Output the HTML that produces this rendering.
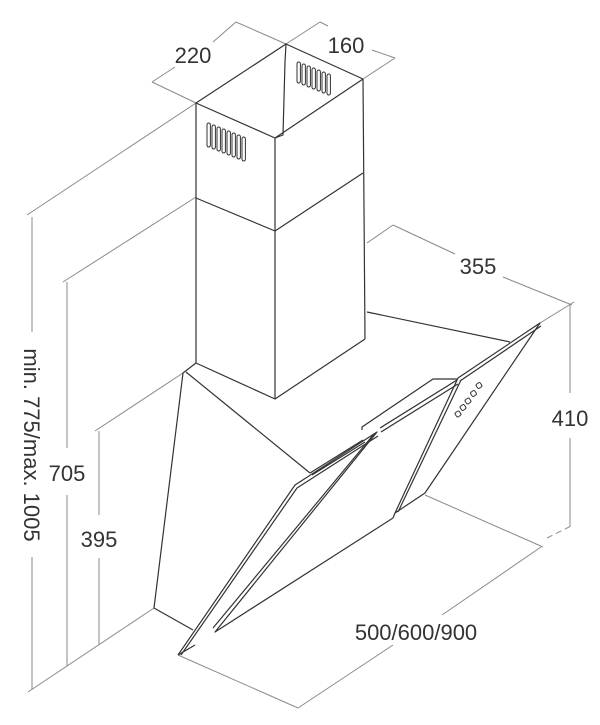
<!DOCTYPE html>
<html><head><meta charset="utf-8"><style>
html,body{margin:0;padding:0;background:#fff;}
svg{display:block;}
text{font-family:"Liberation Sans",sans-serif;font-size:22px;fill:#333;}
</style></head><body>
<svg width="600" height="725" viewBox="0 0 600 725" xmlns="http://www.w3.org/2000/svg">
<g stroke="#8a8a8a" stroke-width="1" fill="none">
  <!-- 220 -->
  <line x1="196" y1="103" x2="152" y2="82"/>
  <line x1="286" y1="44" x2="236" y2="22"/>
  <line x1="152" y1="82" x2="175" y2="67"/>
  <line x1="213" y1="42" x2="236" y2="22"/>
  <!-- 160 -->
  <line x1="286" y1="44" x2="320" y2="22"/>
  <line x1="363" y1="79" x2="395" y2="58"/>
  <line x1="320" y1="22" x2="328" y2="26"/>
  <line x1="372" y1="50" x2="395" y2="58"/>
  <!-- min775 -->
  <line x1="27" y1="215" x2="196" y2="103"/>
  <line x1="32" y1="217" x2="32" y2="332"/>
  <line x1="32" y1="557" x2="32" y2="689"/>
  <!-- 705 -->
  <line x1="63" y1="282" x2="196" y2="197"/>
  <line x1="67" y1="282" x2="67" y2="448"/>
  <line x1="67" y1="495" x2="67" y2="666"/>
  <!-- 395 -->
  <line x1="95" y1="431" x2="183" y2="373"/>
  <line x1="99" y1="431" x2="99" y2="515"/>
  <line x1="99" y1="558" x2="99" y2="645"/>
  <!-- base -->
  <line x1="28" y1="692" x2="154" y2="608"/>
  <!-- 355 -->
  <line x1="367" y1="243" x2="393" y2="225"/>
  <line x1="393" y1="225" x2="455" y2="254"/>
  <line x1="503" y1="277" x2="572" y2="305"/>
  <line x1="540" y1="323" x2="574" y2="302"/>
  <!-- 410 -->
  <line x1="570" y1="305" x2="570" y2="393"/>
  <line x1="570" y1="438" x2="570" y2="527"/>
  <line x1="547" y1="538" x2="573" y2="525" stroke-dasharray="6,4"/>
  <!-- 500/600/900 -->
  <line x1="425" y1="495" x2="543" y2="547"/>
  <line x1="541" y1="547" x2="442" y2="615"/>
  <line x1="393" y1="645" x2="298" y2="708"/>
  <line x1="178" y1="655" x2="298" y2="708"/>
</g>
<g stroke="#333" stroke-width="1.2" fill="none" stroke-linejoin="round">
  <!-- chimney -->
  <polyline points="196,103 275,138 363,79"/>
  <polyline points="196,103 286,44 363,79"/>
  <polyline points="286,44 285,62 283,135 275,138"/>
  <line x1="196" y1="103" x2="196" y2="363"/>
  <line x1="275" y1="138" x2="275" y2="399"/>
  <line x1="363" y1="79" x2="365" y2="339"/>
  <polyline points="196,198 275,231 363,173"/>
  <polyline points="196,363 275,399 365,339"/>
  <!-- hood body -->
  <polyline points="196,363 183,373 154,608 193,630"/>
  <line x1="186" y1="372" x2="310" y2="473"/>
  <line x1="367" y1="312" x2="510" y2="342"/>
  <polyline points="362,430 362,427 433,379 457,379"/>
  <line x1="310" y1="473" x2="363" y2="440"/>
  <line x1="312" y1="475" x2="365" y2="442"/>
  <!-- main glass -->
  <polyline points="178,655 295,485 377,432 215,632 393,518"/>
  <polyline points="181,655 297,488 378,436"/>
  <line x1="213" y1="628" x2="374" y2="434"/>
  <line x1="178" y1="655" x2="195" y2="645"/>
  <!-- second panel top -->
  <line x1="380" y1="428" x2="457" y2="380"/>
  <line x1="381" y1="432" x2="458" y2="384"/>
  <!-- control panel -->
  <polygon points="458,378 540,323 425,493 395,513"/>
  <line x1="461" y1="380" x2="398" y2="512"/>
  <line x1="460" y1="381" x2="541" y2="326"/>
  <polyline points="393,518 395,513"/>
</g>
<g stroke="#333" stroke-width="1" fill="none">
  <rect x="455.5" y="411.5" width="5" height="5" rx="1.5" transform="rotate(-35 458 414)"/>
  <rect x="460.5" y="405" width="5" height="5" rx="1.5" transform="rotate(-35 463 407.5)"/>
  <rect x="465.5" y="398.5" width="5" height="5" rx="1.5" transform="rotate(-35 468 401)"/>
  <rect x="471" y="391" width="5" height="5" rx="1.5" transform="rotate(-35 473.5 393.5)"/>
  <rect x="476.5" y="383" width="5" height="5" rx="1.5" transform="rotate(-35 479 385.5)"/>
</g>
<g stroke="#333" stroke-width="1" fill="none">
  <rect x="207" y="123" width="3.4" height="24" rx="1.7"/>
  <rect x="212" y="125" width="3.4" height="24" rx="1.7"/>
  <rect x="217" y="127" width="3.4" height="24" rx="1.7"/>
  <rect x="222" y="129" width="3.4" height="24" rx="1.7"/>
  <rect x="227" y="131" width="3.4" height="24" rx="1.7"/>
  <rect x="232" y="133" width="3.4" height="24" rx="1.7"/>
  <rect x="237" y="135" width="3.4" height="24" rx="1.7"/>
  <rect x="242" y="137" width="3.4" height="24" rx="1.7"/>
  <rect x="297" y="62" width="3.4" height="21" rx="1.7"/>
  <rect x="302" y="64" width="3.4" height="21" rx="1.7"/>
  <rect x="307" y="66" width="3.4" height="21" rx="1.7"/>
  <rect x="312" y="68" width="3.4" height="21" rx="1.7"/>
  <rect x="317" y="70" width="3.4" height="21" rx="1.7"/>
  <rect x="322" y="72" width="3.4" height="21" rx="1.7"/>
  <rect x="327" y="74" width="3.4" height="21" rx="1.7"/>
</g>
<text x="193" y="63" text-anchor="middle">220</text>
<text x="346" y="53" text-anchor="middle">160</text>
<text x="478" y="274" text-anchor="middle">355</text>
<text x="570" y="426" text-anchor="middle">410</text>
<text x="416" y="640" text-anchor="middle">500/600/900</text>
<text x="67" y="481" text-anchor="middle">705</text>
<text x="99" y="547" text-anchor="middle">395</text>
<text x="0" y="0" text-anchor="middle" transform="translate(24 445) rotate(90)">min. 775/max. 1005</text>
</svg>
</body></html>
